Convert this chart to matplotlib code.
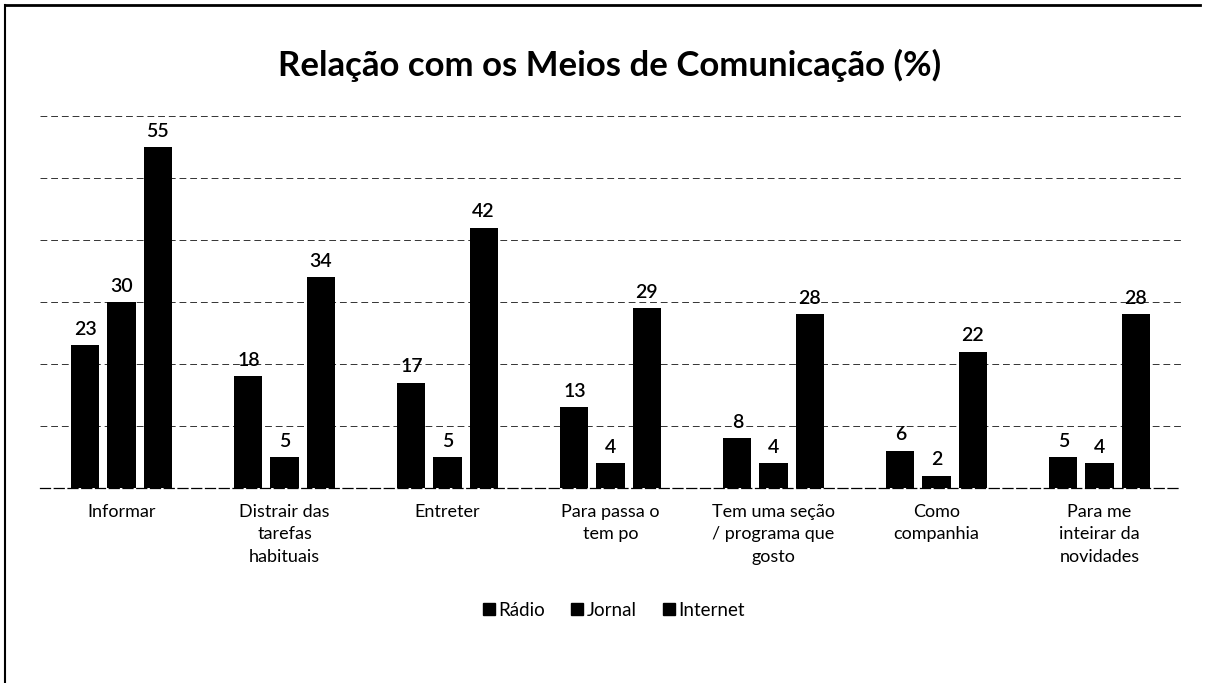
import numpy as np
import matplotlib.pyplot as plt
from matplotlib.lines import Line2D

# chart data
categorias = ['Informar', 'Distrair das\ntarefas\nhabituais', 'Entreter',
              'Para passa o\ntem po', 'Tem uma seção\n/ programa que\ngosto',
              'Como\ncompanhia', 'Para me\ninteirar da\nnovidades']
radio = [23, 18, 17, 13, 8, 6, 5]
jornal = [30, 5, 5, 4, 4, 2, 4]
internet = [55, 34, 42, 29, 28, 22, 28]
series_nomes = ['Rádio', 'Jornal', 'Internet']

plt.rcParams['font.family'] = ['Lato', 'DejaVu Sans']

fig = plt.figure(figsize=(12.07, 6.83), dpi=100)
ax = fig.add_axes([40/1207, 1-488/683, 1141/1207, 372/683])

x = np.arange(len(categorias))
largura = 0.172
passo = 0.221
for k, vals in enumerate([radio, jornal, internet]):
    pos = x + (k-1)*passo
    ax.bar(pos, vals, width=largura, color='black', zorder=3, label=series_nomes[k])
    for p, v in zip(pos, vals):
        ax.text(p, v + 1.2, str(v), ha='center', va='bottom', fontsize=14,
                fontweight='semibold', color='black')

ax.set_xlim(-0.5, len(categorias)-0.5)
ax.set_ylim(0, 60)
ax.set_yticks(np.arange(10, 61, 10))
ax.yaxis.grid(True, color='black', linestyle=(0, (7, 4)), linewidth=0.7, alpha=0.8)
ax.set_axisbelow(True)
for s in ['top', 'right', 'left']:
    ax.spines[s].set_visible(False)
ax.spines['bottom'].set_linestyle((0, (8, 3)))
ax.spines['bottom'].set_linewidth(0.9)
ax.tick_params(left=False, labelleft=False, bottom=False)
ax.set_xticks(x)
ax.set_xticklabels(categorias, fontsize=13, linespacing=1.5, va='top')
ax.tick_params(axis='x', pad=8)

fig.text(0.505, 1-65/683, 'Relação com os Meios de Comunicação (%)',
         ha='center', va='center', fontsize=25, fontweight='bold')

handles = [Line2D([], [], marker='s', linestyle='none', color='black', markersize=9)
           for _ in series_nomes]
fig.legend(handles, series_nomes, loc='center', bbox_to_anchor=(0.508, 1-610/683),
           ncol=3, frameon=False, fontsize=13.5, handletextpad=0.1, columnspacing=1.3,
           handlelength=0.8)

# moldura do scan
fig.add_artist(Line2D([0.004, 0.994], [1-5/683, 1-5/683], color='black', lw=2))
fig.add_artist(Line2D([5/1207, 5/1207], [0, 1-5/683], color='black', lw=1.5))

fig.savefig('out.png', dpi=100)
